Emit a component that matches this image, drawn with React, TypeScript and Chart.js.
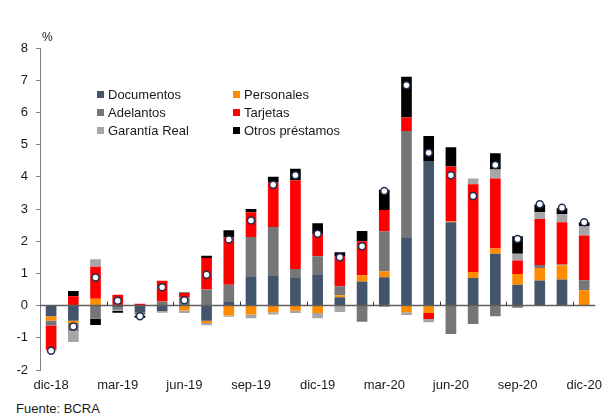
import React, { useEffect, useRef } from 'react';
import { Chart, registerables } from 'chart.js';

Chart.register(...registerables);

const months = [
  'dic-18', 'ene-19', 'feb-19', 'mar-19', 'abr-19', 'may-19', 'jun-19', 'jul-19', 'ago-19',
  'sep-19', 'oct-19', 'nov-19', 'dic-19', 'ene-20', 'feb-20', 'mar-20', 'abr-20', 'may-20',
  'jun-20', 'jul-20', 'ago-20', 'sep-20', 'oct-20', 'nov-20', 'dic-20',
];
const shownLabels = ['dic-18', 'mar-19', 'jun-19', 'sep-19', 'dic-19', 'mar-20', 'jun-20', 'sep-20', 'dic-20'];

const documentos = [-0.33, -0.47, 0, -0.05, -0.2, -0.17, 0, -0.47, 0.11, 0.91, 0.94, 0.88, 0.97, 0.26, 0.75, 0.88, 2.12, 4.49, 2.59, 0.86, 1.61, 0.65, 0.78, 0.81, 0];
const personales = [-0.13, -0.07, 0.21, 0, 0, 0, -0.15, -0.07, -0.31, -0.28, -0.21, -0.16, -0.23, 0.06, 0.19, 0.18, -0.21, -0.23, 0.02, 0.18, 0.16, 0.33, 0.39, 0.44, 0.48];
const adelantos = [-0.16, -0.26, -0.41, -0.08, -0.08, 0.13, 0.25, 0.5, 0.54, 1.22, 1.5, 0.26, 0.56, 0.28, -0.5, 1.24, 3.3, 0, -0.88, -0.57, -0.33, -0.07, 0.09, 0.03, 0.31];
const tarjetas = [-0.75, 0.29, 1.0, 0.34, 0.06, 0.64, 0.14, 0.98, 1.47, 0.77, 1.39, 2.75, 0.69, 0.93, 1.06, 0.67, 0.42, -0.19, 1.71, 2.73, 2.18, 0.42, 1.43, 1.31, 1.39];
const garantiaReal = [-0.03, -0.33, 0.23, -0.03, -0.04, -0.05, -0.08, -0.07, -0.04, -0.11, -0.07, -0.07, -0.16, -0.2, 0, -0.04, -0.08, -0.1, 0, 0.18, 0.28, 0.21, 0.21, 0.25, 0.29];
const otrosPrestamos = [0, 0.16, -0.19, -0.06, -0.06, 0, 0.02, 0.07, 0.22, 0.1, 0.17, 0.36, 0.34, 0.13, 0.32, 0.63, 1.27, 0.78, 0.6, 0, 0.5, 0.54, 0.24, 0.18, 0.12];
const total = [-1.4, -0.65, 0.87, 0.15, -0.33, 0.57, 0.17, 0.96, 2.05, 2.64, 3.75, 4.05, 2.23, 1.5, 1.84, 3.56, 6.84, 4.75, 4.05, 3.4, 4.37, 2.07, 3.15, 3.04, 2.59];

const yTicks = [-2, -1, 0, 1, 2, 3, 4, 5, 6, 7, 8];

const series = [
  { label: 'Documentos', data: documentos, color: '#44546A' },
  { label: 'Personales', data: personales, color: '#FF8C00' },
  { label: 'Adelantos', data: adelantos, color: '#767676' },
  { label: 'Tarjetas', data: tarjetas, color: '#FF0000' },
  { label: 'Garantía Real', data: garantiaReal, color: '#A6A6A6' },
  { label: 'Otros préstamos', data: otrosPrestamos, color: '#000000' },
];

const FONT = "'Liberation Sans', Arial, sans-serif";

const zeroLinePlugin = {
  id: 'zeroLine',
  afterDatasetsDraw(chart: any) {
    const { ctx, chartArea, scales } = chart;
    const y0 = scales.y.getPixelForValue(0);
    const xs = scales.x;
    ctx.save();
    ctx.strokeStyle = '#5f5f5f';
    ctx.lineWidth = 1.5;
    ctx.beginPath();
    ctx.moveTo(chartArea.left, y0);
    ctx.lineTo(chartArea.right, y0);
    ctx.stroke();
    ctx.lineWidth = 1;
    ctx.strokeStyle = '#333';
    for (let i = 1; i < months.length; i++) {
      if (shownLabels.includes(months[i])) {
        const x = Math.round((xs.getPixelForValue(i) + xs.getPixelForValue(i - 1)) / 2) + 0.5;
        ctx.beginPath();
        ctx.moveTo(x, y0);
        ctx.lineTo(x, y0 - 4);
        ctx.stroke();
      }
    }
    ctx.restore();
  },
};

function App() {
  const ref = useRef<HTMLCanvasElement | null>(null);

  useEffect(() => {
    if (!ref.current) return;
    const chart = new Chart(ref.current, {
      type: 'bar',
      data: {
        labels: months,
        datasets: [
          {
            type: 'line',
            label: 'Total',
            data: total,
            showLine: false,
            pointRadius: 3.5,
            pointBackgroundColor: '#ffffff',
            pointBorderColor: '#1f3050',
            pointBorderWidth: 1.5,
            order: 0,
            stack: 'tot',
          } as any,
          ...series.map((s) => ({
            type: 'bar',
            label: s.label,
            data: s.data,
            backgroundColor: s.color,
            borderWidth: 0,
            barPercentage: 0.48,
            categoryPercentage: 1,
            order: 1,
            stack: 'a',
          })),
        ],
      },
      options: {
        animation: false,
        responsive: false,
        devicePixelRatio: 1,
        layout: { padding: { top: 48, right: 5, left: 0, bottom: 0 } },
        plugins: {
          legend: { display: false },
          tooltip: { enabled: false },
        },
        scales: {
          x: {
            stacked: true,
            grid: { display: false, drawTicks: false },
            border: { display: false },
            ticks: {
              autoSkip: false,
              maxRotation: 0,
              minRotation: 0,
              padding: 8,
              color: '#1a1a1a',
              font: { family: FONT, size: 13 },
              callback: (_v: any, i: number) => (shownLabels.includes(months[i]) ? months[i] : ''),
            },
            afterFit: (scale: any) => {
              scale.height = 30;
            },
          },
          y: {
            stacked: true,
            min: -2,
            max: 8,
            afterBuildTicks: (scale: any) => {
              scale.ticks = yTicks.map((v) => ({ value: v }));
            },
            grid: { drawOnChartArea: false, drawTicks: true, tickLength: 4, color: '#808080' },
            border: { display: true, color: '#808080', width: 1 },
            ticks: {
              padding: 8,
              color: '#1a1a1a',
              font: { family: FONT, size: 13 },
            },
            afterFit: (scale: any) => {
              scale.width = 40;
            },
          },
        },
      },
      plugins: [zeroLinePlugin],
    } as any);
    return () => chart.destroy();
  }, []);

  const legendRows = [
    [series[0], series[1]],
    [series[2], series[3]],
    [series[4], series[5]],
  ];

  return (
    <div
      style={{
        position: 'absolute',
        left: 0,
        top: 0,
        width: 610,
        height: 416,
        background: '#ffffff',
        fontFamily: FONT,
        color: '#1a1a1a',
        overflow: 'hidden',
      }}
    >
      <canvas
        ref={ref}
        width={610}
        height={400}
        style={{ position: 'absolute', left: 0, top: 0, width: 610, height: 400 }}
      />
      <div style={{ position: 'absolute', left: 42, top: 30, fontSize: 12 }}>%</div>
      {legendRows.map((row, r) =>
        row.map((s, c) => (
          <div
            key={s.label}
            style={{
              position: 'absolute',
              left: c === 0 ? 97 : 233,
              top: 86 + r * 18,
              height: 16,
              display: 'flex',
              alignItems: 'center',
              fontSize: 13,
              whiteSpace: 'nowrap',
            }}
          >
            <span style={{ display: 'inline-block', width: 7, height: 7, background: s.color, marginRight: 4 }} />
            <span>{s.label}</span>
          </div>
        ))
      )}
      <div style={{ position: 'absolute', left: 16, top: 401, fontSize: 13 }}>Fuente: BCRA</div>
    </div>
  );
}

export default App;
